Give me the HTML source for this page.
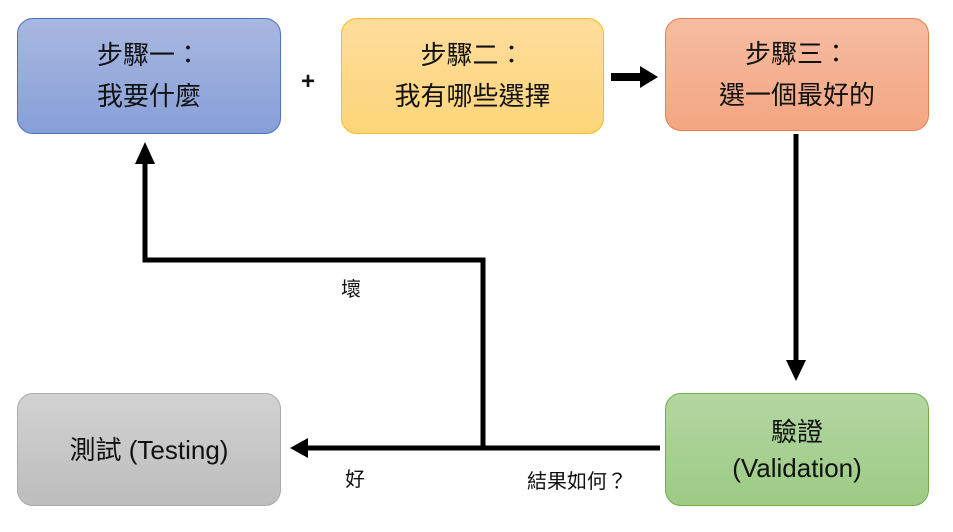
<!DOCTYPE html>
<html><head><meta charset="utf-8"><style>
body{margin:0;width:953px;height:532px;background:#fff;overflow:hidden;position:relative;font-family:"Liberation Sans","Noto Sans CJK TC",sans-serif}
.b{position:absolute;box-sizing:border-box;border-radius:16px;display:flex;align-items:center;justify-content:center;text-align:center;font-size:26px;line-height:36px;color:#111}
.t{position:absolute;font-size:20px;color:#111}
</style></head><body>
<div class="b" style="left:17px;top:18px;width:264px;height:116px;line-height:41px;background:linear-gradient(#a9b8e0,#879fd8);border:1px solid #4a72c4">步驟一：<br>我要什麼</div>
<div class="b" style="left:341px;top:18px;width:263px;height:116px;line-height:41px;background:linear-gradient(#fedd9c,#fdd57a);border:1px solid #f7bd1c">步驟二：<br>我有哪些選擇</div>
<div class="b" style="left:665px;top:18px;width:264px;height:113px;line-height:41px;background:linear-gradient(#f6bca2,#f3a682);border:1px solid #ec7d4e">步驟三：<br>選一個最好的</div>
<div class="b" style="left:17px;top:393px;width:264px;height:113px;background:linear-gradient(#d2d2d2,#bdbdbd);border:1px solid #aaa">測試 (Testing)</div>
<div class="b" style="left:665px;top:393px;width:264px;height:113px;background:linear-gradient(#b4d6a2,#9ccb84);border:1px solid #70ad47">驗證<br>(Validation)</div>
<div class="t" style="left:301px;top:68px;font-size:24px;font-weight:bold">+</div>
<svg width="953" height="532" style="position:absolute;left:0;top:0">
<g stroke="#000" stroke-width="5" fill="none">
<line x1="611" y1="77" x2="642" y2="77" stroke-width="8"/>
<line x1="796" y1="134" x2="796" y2="362"/>
<polyline points="660,448 483,448 483,260 145,260 145,162"/>
<line x1="483" y1="448" x2="305" y2="448"/>
</g>
<polygon points="640,66 658,77 640,88" fill="#000"/>
<polygon points="786,360 806,360 796,381" fill="#000"/>
<polygon points="135,164 155,164 145,142" fill="#000"/>
<polygon points="308,438 308,458 290,448" fill="#000"/>
</svg>
<div class="t" style="left:341px;top:273px">壞</div>
<div class="t" style="left:345px;top:463px">好</div>
<div class="t" style="left:527px;top:465px">結果如何？</div>
</body></html>
